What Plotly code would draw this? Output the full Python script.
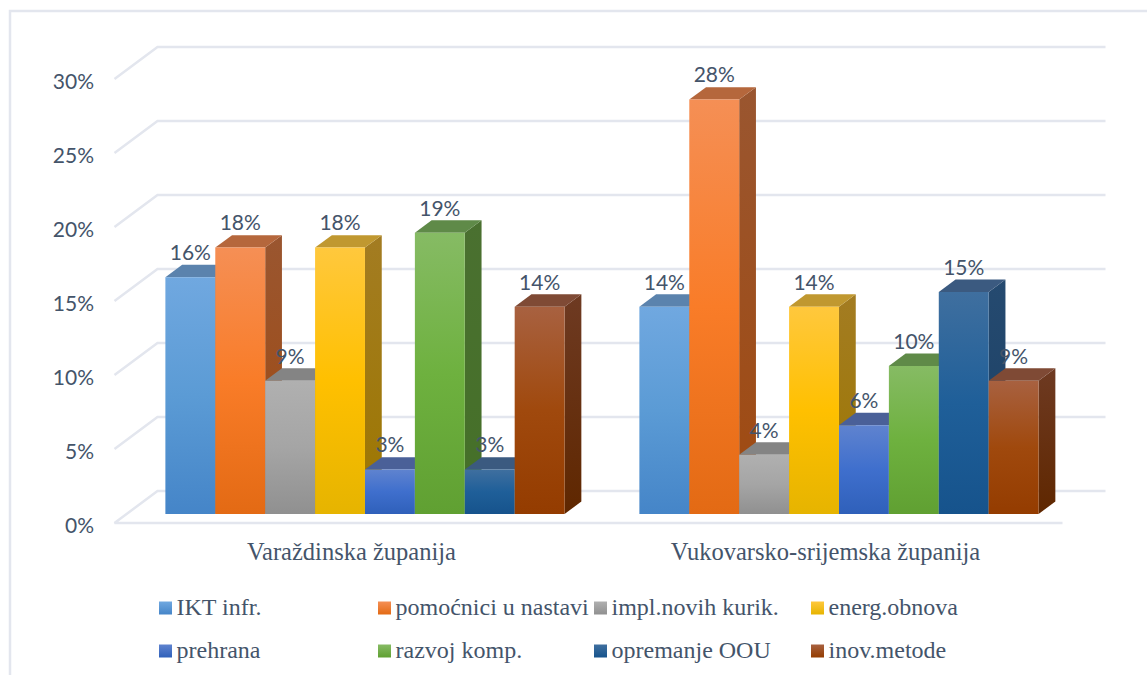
import plotly.graph_objects as go

CATEGORIES = ["Varaždinska županija", "Vukovarsko-srijemska županija"]
SERIES = ["IKT infr.", "pomoćnici u nastavi", "impl.novih kurik.", "energ.obnova",
          "prehrana", "razvoj komp.", "opremanje OOU", "inov.metode"]
VARAZDIN = [16, 18, 9, 18, 3, 19, 3, 14]
VUKOVAR = [14, 28, 4, 14, 6, 10, 15, 9]
TICKS = [0, 5, 10, 15, 20, 25, 30]

FRONT_TOP = ["#70a8e0", "#f58f55", "#b0b0b0", "#ffc83d", "#5f83cf", "#86bb64", "#3f6f9f", "#a86140"]
FRONT_MID = ["#5b9bd5", "#f97c28", "#a5a5a5", "#ffc000", "#3f6fcd", "#6eb13f", "#1f5f99", "#a0490d"]
FRONT_BOT = ["#4585c8", "#e36a14", "#909090", "#e6b400", "#2f60ba", "#60a032", "#16538c", "#943c00"]
TOP_FACE = ["#5b83ad", "#b5673c", "#848484", "#c09830", "#4a6098", "#5f8a48", "#3b5a80", "#7f4a35"]
SIDE_TOP = ["#3d6a95", "#9a5630", "#777777", "#a37c22", "#2f4c85", "#4a7030", "#254a70", "#6e3a22"]
SIDE_BOT = ["#335f8a", "#a04a10", "#6c6c6c", "#9d7700", "#27427a", "#457028", "#1b3f63", "#5f2700"]

TEXT = "#44546a"
GRID = "#e3e6ee"
W, H = 1147, 675
PX_X, PX_Y = 474.0, 14.8          # pixels per category, per percent
X0_PX, Y0_PX = 351.5, 523.0       # where category 0 / value 0 sit on the front floor edge
DX, DY = 43 / PX_X, 32 / PX_Y     # projected depth of the chart box
D0, D1 = 0.281, 0.671             # depth of bar front and back
BAR_W = 49.9 / PX_X
SHIFT = 1.4 / PX_X


def proj(x, v, d):
    return x + d * DX, v + d * DY


fig = go.Figure()

# walls: gridlines
for t in TICKS:
    a = proj(-0.5, t, 0)
    b = proj(-0.5, t, 1)
    c = proj(1.5, t, 1)
    xs, ys = [a[0], b[0], c[0]], [a[1], b[1], c[1]]
    if t == 0:
        e = proj(1.5, t, 0)
        xs = [e[0]] + xs
        ys = [e[1]] + ys
    fig.add_trace(go.Scatter(x=xs, y=ys, mode="lines", line=dict(color=GRID, width=2.5),
                             showlegend=False, hoverinfo="skip"))


def poly(xs, ys, **kw):
    fig.add_trace(go.Scatter(x=xs + xs[:1], y=ys + ys[:1], mode="none", fill="toself",
                             showlegend=False, hoverinfo="skip", **kw))


label_x, label_y, label_t = [], [], []
for g, vals in enumerate([VARAZDIN, VUKOVAR]):
    for s, v in enumerate(vals):
        x0 = g + SHIFT + (s - 4) * BAR_W
        x1 = x0 + BAR_W
        f00, f01 = proj(x0, 0, D0), proj(x0, v, D0)
        f10, f11 = proj(x1, 0, D0), proj(x1, v, D0)
        b10, b11 = proj(x1, 0, D1), proj(x1, v, D1)
        b01 = proj(x0, v, D1)
        poly([f10[0], b10[0], b11[0], f11[0]], [f10[1], b10[1], b11[1], f11[1]],
             fillgradient=dict(type="vertical",
                               colorscale=[[0, SIDE_BOT[s]], [1, SIDE_TOP[s]]]))
        poly([f01[0], b01[0], b11[0], f11[0]], [f01[1], b01[1], b11[1], f11[1]],
             fillcolor=TOP_FACE[s])
        poly([f00[0], f10[0], f11[0], f01[0]], [f00[1], f10[1], f11[1], f01[1]],
             fillgradient=dict(type="vertical",
                               colorscale=[[0, FRONT_BOT[s]], [0.5, FRONT_MID[s]], [1, FRONT_TOP[s]]]))
        label_x.append((f01[0] + f11[0]) / 2)
        label_y.append(f01[1] + 22.5 / PX_Y)
        label_t.append(f"{v}%")

fig.add_trace(go.Scatter(x=label_x, y=label_y, text=label_t, mode="text", textposition="middle center",
                         textfont=dict(family="Lato", size=21, color=TEXT),
                         showlegend=False, hoverinfo="skip"))

# legend
LEG_COL_PX = [165.5, 384.5, 600.5, 817.5]
LEG_ROW_PX = [608, 651]
for s, name in enumerate(SERIES):
    px = LEG_COL_PX[s % 4]
    py = LEG_ROW_PX[s // 4]
    fig.add_trace(go.Scatter(
        x=[(px - X0_PX) / PX_X], y=[(Y0_PX - py) / PX_Y], mode="markers", name=name,
        marker=dict(symbol="square", size=13, color=FRONT_TOP[s], line=dict(width=0),
                    gradient=dict(type="vertical", color=FRONT_BOT[s])),
        showlegend=False, hoverinfo="skip"))
    fig.add_trace(go.Scatter(
        x=[(px + 11 - X0_PX) / PX_X], y=[(Y0_PX - py - 1) / PX_Y], mode="text", name=name,
        text=[name], textposition="middle right",
        textfont=dict(family="Liberation Serif", size=24, color=TEXT),
        showlegend=False, hoverinfo="skip"))

fig.update_layout(
    width=W, height=H, margin=dict(l=0, r=0, t=0, b=0), autosize=False,
    paper_bgcolor="white", plot_bgcolor="white", showlegend=False,
    xaxis=dict(range=[-X0_PX / PX_X, (W - X0_PX) / PX_X], domain=[0, 1], anchor="free",
               position=1 - 534 / H, tickmode="array", tickvals=[0, 1], ticktext=CATEGORIES,
               showgrid=False, zeroline=False, showline=False, ticks="", fixedrange=True,
               tickfont=dict(family="Liberation Serif", size=24.5, color=TEXT)),
    yaxis=dict(range=[-(H - Y0_PX) / PX_Y, Y0_PX / PX_Y], domain=[0, 1], anchor="free",
               position=94 / W, tickmode="array", tickvals=TICKS, ticktext=[f"{t}%" for t in TICKS],
               showgrid=False, zeroline=False, showline=False, ticks="", fixedrange=True,
               ticklabelshift=3, tickfont=dict(family="Lato", size=21, color=TEXT)),
    shapes=[dict(type="rect", xref="paper", yref="paper",
                 x0=10 / W, x1=1.05, y0=-0.1, y1=1 - 11 / H,
                 line=dict(color=GRID, width=2.5), layer="below")],
)
fig.write_html("out.html", config={"displayModeBar": False},
               post_script="document.body.style.margin='0';")
